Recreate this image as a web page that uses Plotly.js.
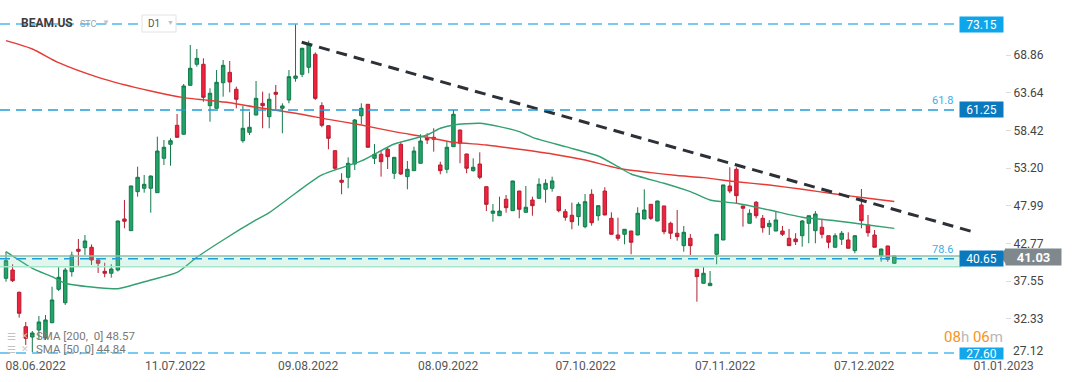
<!DOCTYPE html>
<html><head><meta charset="utf-8">
<script src="https://cdn.plot.ly/plotly-3.0.1.min.js"></script>
<style>html,body{margin:0;padding:0;background:#fff;}#chart{width:1072px;height:382px;}</style>
</head><body><div id="chart"></div>
<script>
// ---- data ----
const openP = [37.93,39.08,35.99,31.23,29.80,30.77,29.67,31.78,36.41,34.55,
38.85,41.95,42.17,42.23,40.47,38.90,38.63,39.08,46.15,44.53,
49.93,50.40,50.40,49.79,54.55,56.49,59.12,57.88,64.66,67.57,
67.57,61.84,61.48,65.02,66.46,64.11,56.99,58.15,60.55,62.17,
60.32,63.69,61.48,62.63,65.63,66.19,67.16,68.96,61.84,59.07,
55.61,51.51,51.92,53.76,60.45,62.03,54.55,55.11,55.80,52.48,
56.49,52.01,52.84,53.86,57.41,57.46,53.63,53.03,56.16,58.47,
55.15,52.84,53.76,50.62,46.94,46.60,48.88,47.30,50.02,47.07,
48.78,49.01,50.26,50.40,49.24,47.16,46.66,46.47,45.08,49.57,
46.60,50.02,46.24,43.93,44.03,44.48,43.93,46.15,48.18,45.87,
47.95,45.55,44.17,42.45,43.47,39.18,37.24,36.91,41.26,43.24,
50.72,53.03,47.95,45.55,48.46,46.24,45.08,44.48,44.48,43.47,
43.38,43.83,45.55,44.53,45.00,43.83,42.23,43.34,43.24,41.76,
48.09,45.32,43.93,41.06,42.41,40.01];
const highP = [41.62,39.87,36.10,31.88,30.63,32.71,32.85,36.77,39.54,39.36,
41.62,43.38,43.93,42.62,40.75,40.09,39.87,45.90,48.78,50.75,
53.39,52.24,52.15,57.55,57.09,57.32,60.69,64.84,70.25,69.69,
68.40,64.25,66.78,68.17,68.03,64.47,61.80,61.01,65.26,63.78,
63.56,64.71,62.17,66.78,73.15,69.85,70.84,69.23,62.31,59.10,
55.65,52.48,54.69,60.00,62.17,62.05,56.53,55.56,56.02,54.72,
56.85,54.18,56.16,57.88,58.02,58.71,54.08,56.85,61.24,58.50,
55.18,54.55,55.38,50.65,48.22,49.24,49.47,51.45,50.05,50.72,
49.24,51.78,51.65,52.01,49.27,47.53,48.40,48.46,49.61,50.26,
48.02,50.54,47.07,46.33,44.75,44.50,47.77,50.26,48.21,48.67,
47.98,45.77,47.39,45.18,44.07,39.20,39.54,38.94,44.05,50.88,
53.31,53.31,47.97,47.49,48.64,46.70,46.01,47.25,45.18,44.76,
44.17,46.01,46.62,47.25,46.15,43.85,44.17,44.48,44.30,43.85,
50.30,46.70,44.62,42.01,42.43,41.05];
const lowP = [37.46,37.42,32.48,28.70,27.70,29.39,29.39,31.70,36.17,34.24,
38.16,39.68,41.16,39.78,38.67,38.07,38.02,38.88,44.86,44.50,
49.24,49.79,47.02,49.75,53.63,53.53,57.40,57.85,64.60,67.24,
62.39,59.62,61.45,63.09,63.69,61.48,56.71,57.78,60.50,58.71,
58.71,61.34,58.02,62.17,65.16,65.81,66.33,62.63,58.85,55.80,
52.93,49.57,50.40,52.93,59.30,56.05,53.76,52.01,53.07,51.69,
52.24,50.26,52.80,53.82,56.53,55.47,52.34,52.48,56.12,53.86,
52.48,52.70,51.65,47.25,45.77,46.57,47.02,47.27,46.24,47.04,
46.60,48.98,48.40,49.93,47.07,45.91,44.72,45.22,44.86,45.22,
45.91,46.67,44.00,43.14,42.64,41.26,43.90,46.12,46.01,45.84,
44.03,43.38,43.14,41.62,41.16,34.69,37.22,36.89,39.87,43.22,
49.71,48.32,45.08,45.53,46.24,44.25,43.93,44.46,43.79,42.43,
42.55,42.31,42.78,42.78,43.47,42.09,42.21,42.55,42.07,41.40,
44.86,43.70,42.21,40.23,40.23,39.99];
const closeP = [40.37,37.60,33.09,29.62,30.36,31.88,32.16,34.93,38.07,39.08,
41.12,41.67,43.10,40.47,40.01,38.63,39.22,45.87,45.83,50.72,
51.92,50.95,52.10,55.56,56.08,56.99,57.46,64.57,67.02,68.40,
63.00,63.56,65.08,67.43,65.12,62.73,58.71,58.85,62.86,61.84,
62.73,63.42,61.80,65.86,65.95,69.79,70.38,62.86,59.12,57.32,
53.17,51.23,53.86,59.86,61.48,56.08,55.11,54.08,54.78,54.69,
52.38,53.03,55.56,56.95,57.09,57.19,52.84,56.08,60.65,56.63,
53.17,53.31,51.92,48.18,47.25,47.25,47.71,51.41,47.49,47.77,
47.99,50.95,51.09,51.41,47.30,46.38,45.77,48.18,48.54,45.63,
47.99,46.70,44.03,43.47,44.72,42.92,46.94,47.39,46.24,48.64,
44.39,44.17,43.70,44.30,42.45,38.16,38.63,37.24,44.03,50.86,
50.02,49.37,47.63,46.94,46.60,44.94,45.55,46.01,44.03,42.45,
43.00,45.87,46.60,46.84,44.03,42.92,43.83,44.17,42.09,43.83,
45.91,44.25,42.23,41.99,40.57,41.03];

const sma200Idx = [0,4,8,14,22,27,34,38,44,49,54,59,64,68,73,78,83,88,93,98,102,106,111,116,121,126,131,135];
const sma200    = [70.84,69.69,67.79,65.77,63.87,62.95,62.25,61.62,60.79,59.95,59.16,58.24,57.46,56.77,56.39,55.80,55.15,54.32,53.17,52.56,52.17,51.87,51.31,50.85,50.26,49.61,49.01,48.57];
const sma50Idx  = [0,4,7,9,14,17,22,26,29,33,38,40,44,48,54,59,64,66,68,72,75,78,80,85,90,93,95,100,104,107,111,116,121,126,131,135];
const sma50     = [41.62,39.32,38.15,37.24,36.63,36.49,37.70,38.74,40.84,43.24,46.01,47.02,49.71,52.24,54.18,56.53,57.78,58.71,59.17,59.40,58.93,58.24,57.46,56.16,54.87,53.39,52.38,51.09,49.93,48.78,48.32,47.39,46.38,45.91,45.31,44.84];

const trendIdx   = [44.94, 146.9];
const trendPrice = [70.62, 44.39];

const levelPrices = [73.15, 61.25, 40.65, 27.60];
const levelText   = ['73.15', '61.25', '40.65', '27.60'];
const zoneLow = 39.54, zoneHigh = 41.02;
const fibLabels = [{text:'61.8', price:61.25}, {text:'78.6', price:40.65}];
const lastPrice = 41.03;

const yTickVals = [32.33, 37.55, 42.77, 47.99, 53.20, 58.42, 63.64, 68.86];
const yTickText = ['32.33','37.55','42.77','47.99','53.20','58.42','63.64','68.86'];
const dateTickIdx  = [4.5, 25.7, 45.9, 67.2, 88.1, 109.3, 130.4, 151.6];
const dateTickText = ['08.06.2022','11.07.2022','09.08.2022','08.09.2022','07.10.2022','07.11.2022','07.12.2022','01.01.2023'];
const legendText = ['SMA [200,  0] 48.57', 'SMA [50, 0] 44.84'];

// ---- layout helpers (plot area 1005 x 357 px) ----
const PW = 1005, PH = 357;
const px = v => v / PW;
const py = v => (PH - v) / PH;
const idx = openP.map((_, i) => i);

const FONT = 'Roboto, "Open Sans", Arial, sans-serif';

const traces = [
  {type:'candlestick', x:idx, open:openP, high:highP, low:lowP, close:closeP,
    increasing:{line:{color:'#147a4b', width:1}, fillcolor:'#22a468'},
    decreasing:{line:{color:'#b41f31', width:1}, fillcolor:'#f2213d'},
    whiskerwidth:0, hoverinfo:'skip'},
  {type:'scatter', mode:'lines', x:sma200Idx, y:sma200, line:{color:'#e53a35', width:1.4, shape:'spline', smoothing:0.6}, hoverinfo:'skip'},
  {type:'scatter', mode:'lines', x:sma50Idx, y:sma50, line:{color:'#33a070', width:1.4, shape:'spline', smoothing:0.6}, hoverinfo:'skip'},
  {type:'scatter', mode:'lines', x:trendIdx, y:trendPrice, line:{color:'#2b3137', width:3, dash:'11px,7px'}, hoverinfo:'skip'}
];

const levelColors = ['#4cb9ee', '#1f9ddc', '#1f9ddc', '#4cb9ee'];
const boxColors   = ['#0ea6ea', '#0a79bd', '#0a79bd', '#12a7ea'];

const shapes = [];
shapes.push({type:'rect', xref:'paper', yref:'y', x0:0, x1:px(961), y0:zoneLow, y1:zoneHigh,
  fillcolor:'rgba(120,215,175,0.22)', line:{width:0}, layer:'above'});
shapes.push({type:'line', xref:'paper', yref:'y', x0:0, x1:px(961), y0:zoneHigh, y1:zoneHigh, line:{color:'#88c2a9', width:1.5}, layer:'above'});
shapes.push({type:'line', xref:'paper', yref:'y', x0:0, x1:px(961), y0:zoneLow, y1:zoneLow, line:{color:'#a6e6ca', width:1.5}, layer:'above'});
levelPrices.forEach((p, i) => {
  shapes.push({type:'line', xref:'paper', yref:'y', x0:0, x1:px(955), y0:p, y1:p,
    line:{color:levelColors[i], width:1.5, dash:'10px,6px'}, layer:'above'});
});
shapes.push({type:'rect', xref:'paper', yref:'paper', x0:px(142), x1:px(176), y0:py(32), y1:py(15),
  fillcolor:'#ffffff', line:{color:'#e2e2e2', width:1}, layer:'above'});
shapes.push({type:'path', xref:'paper', yref:'y', xsizemode:'pixel', ysizemode:'pixel', xanchor:1, yanchor:lastPrice,
  path:'M1,8 L-5,0 L1,-8 Z', fillcolor:'#7f888d', line:{width:0}, layer:'above'});

const annotations = [];
levelPrices.forEach((p, i) => {
  annotations.push({xref:'paper', yref:'y', x:px(1004), y:p, xanchor:'right', yanchor:'middle',
    text:levelText[i], showarrow:false, width:43, height:(i===3?11:15), borderpad:0,
    bgcolor:boxColors[i], font:{family:FONT, size:12, color:'#ffffff'}, yshift:(i===3?-1:0)});
});
fibLabels.forEach(f => {
  annotations.push({xref:'paper', yref:'y', x:px(955), y:f.price, xanchor:'right', yanchor:'bottom', yshift:1,
    text:f.text, showarrow:false, font:{family:FONT, size:11, color:'#3aaee9'}});
});
annotations.push({xref:'paper', yref:'y', x:1, y:lastPrice, xanchor:'left', yanchor:'middle', yshift:-1,
  text:'<b>' + lastPrice.toFixed(2) + '</b>', showarrow:false, width:55, height:16, borderpad:0,
  bgcolor:'#7f888d', font:{family:FONT, size:13, color:'#ffffff'}});
annotations.push({xref:'paper', yref:'y', x:1, y:27.12, xanchor:'left', yanchor:'middle', xshift:6, yshift:5,
  text:'27.12', showarrow:false, font:{family:FONT, size:12, color:'#444444'}});
annotations.push({xref:'paper', yref:'paper', x:px(19), y:py(23), xanchor:'left', yanchor:'middle',
  text:'<b>BEAM.US</b>', showarrow:false, font:{family:FONT, size:12, color:'#3d3d3d'}});
annotations.push({xref:'paper', yref:'paper', x:px(78), y:py(24), xanchor:'left', yanchor:'middle',
  text:'STC', showarrow:false, font:{family:FONT, size:9, color:'#9aa4ab'}});
annotations.push({xref:'paper', yref:'paper', x:px(100), y:py(22), xanchor:'left', yanchor:'middle',
  text:'▼', showarrow:false, font:{family:FONT, size:8, color:'#c4c4c4'}});
annotations.push({xref:'paper', yref:'paper', x:px(146), y:py(23.5), xanchor:'left', yanchor:'middle',
  text:'D1', showarrow:false, font:{family:FONT, size:10, color:'#555555'}});
annotations.push({xref:'paper', yref:'paper', x:px(165), y:py(23), xanchor:'left', yanchor:'middle',
  text:'▼', showarrow:false, font:{family:FONT, size:7, color:'#bdbdbd'}});
annotations.push({xref:'paper', yref:'paper', x:px(1005), y:py(337), xanchor:'right', yanchor:'middle',
  text:'<span style="color:#f7941d">08</span><span style="color:#b8b8b8">h</span> <span style="color:#f7941d">06</span><span style="color:#b8b8b8">m</span>',
  showarrow:false, font:{family:FONT, size:15, color:'#f7941d'}});
legendText.forEach((t, i) => {
  const yy = 336 + i * 13;
  annotations.push({xref:'paper', yref:'paper', x:px(5), y:py(yy), xanchor:'left', yanchor:'middle',
    text:'☰', showarrow:false, font:{family:'DejaVu Sans', size:10, color:'#c2c2c2'}});
  annotations.push({xref:'paper', yref:'paper', x:px(19), y:py(yy), xanchor:'left', yanchor:'middle',
    text:'✕', showarrow:false, font:{family:'DejaVu Sans', size:9, color:'#c8c8c8'}});
  annotations.push({xref:'paper', yref:'paper', x:px(34), y:py(yy), xanchor:'left', yanchor:'middle',
    text:t, showarrow:false, font:{family:FONT, size:11.5, color:'#7a7a7a'}});
});

const layout = {
  width:1072, height:382,
  margin:{l:0, r:67, t:0, b:25, pad:0},
  paper_bgcolor:'#ffffff', plot_bgcolor:'#ffffff',
  showlegend:false,
  boxgap:0.25,
  font:{family:FONT},
  xaxis:{range:[-0.912, 151.82], rangeslider:{visible:false}, showgrid:false, zeroline:false, showline:false,
    tickmode:'array', tickvals:dateTickIdx, ticktext:dateTickText, ticks:'', tickfont:{family:FONT, size:12, color:'#555555'}, fixedrange:true},
  yaxis:{range:[27.03, 76.478], side:'right', showgrid:false, zeroline:false, showline:false,
    tickmode:'array', tickvals:yTickVals, ticktext:yTickText, ticks:'outside', ticklen:5, tickcolor:'#dddddd',
    tickfont:{family:FONT, size:12, color:'#444444'}, fixedrange:true},
  shapes:shapes, annotations:annotations
};

Plotly.newPlot('chart', traces, layout, {displayModeBar:false, staticPlot:true});
</script>
</body></html>
